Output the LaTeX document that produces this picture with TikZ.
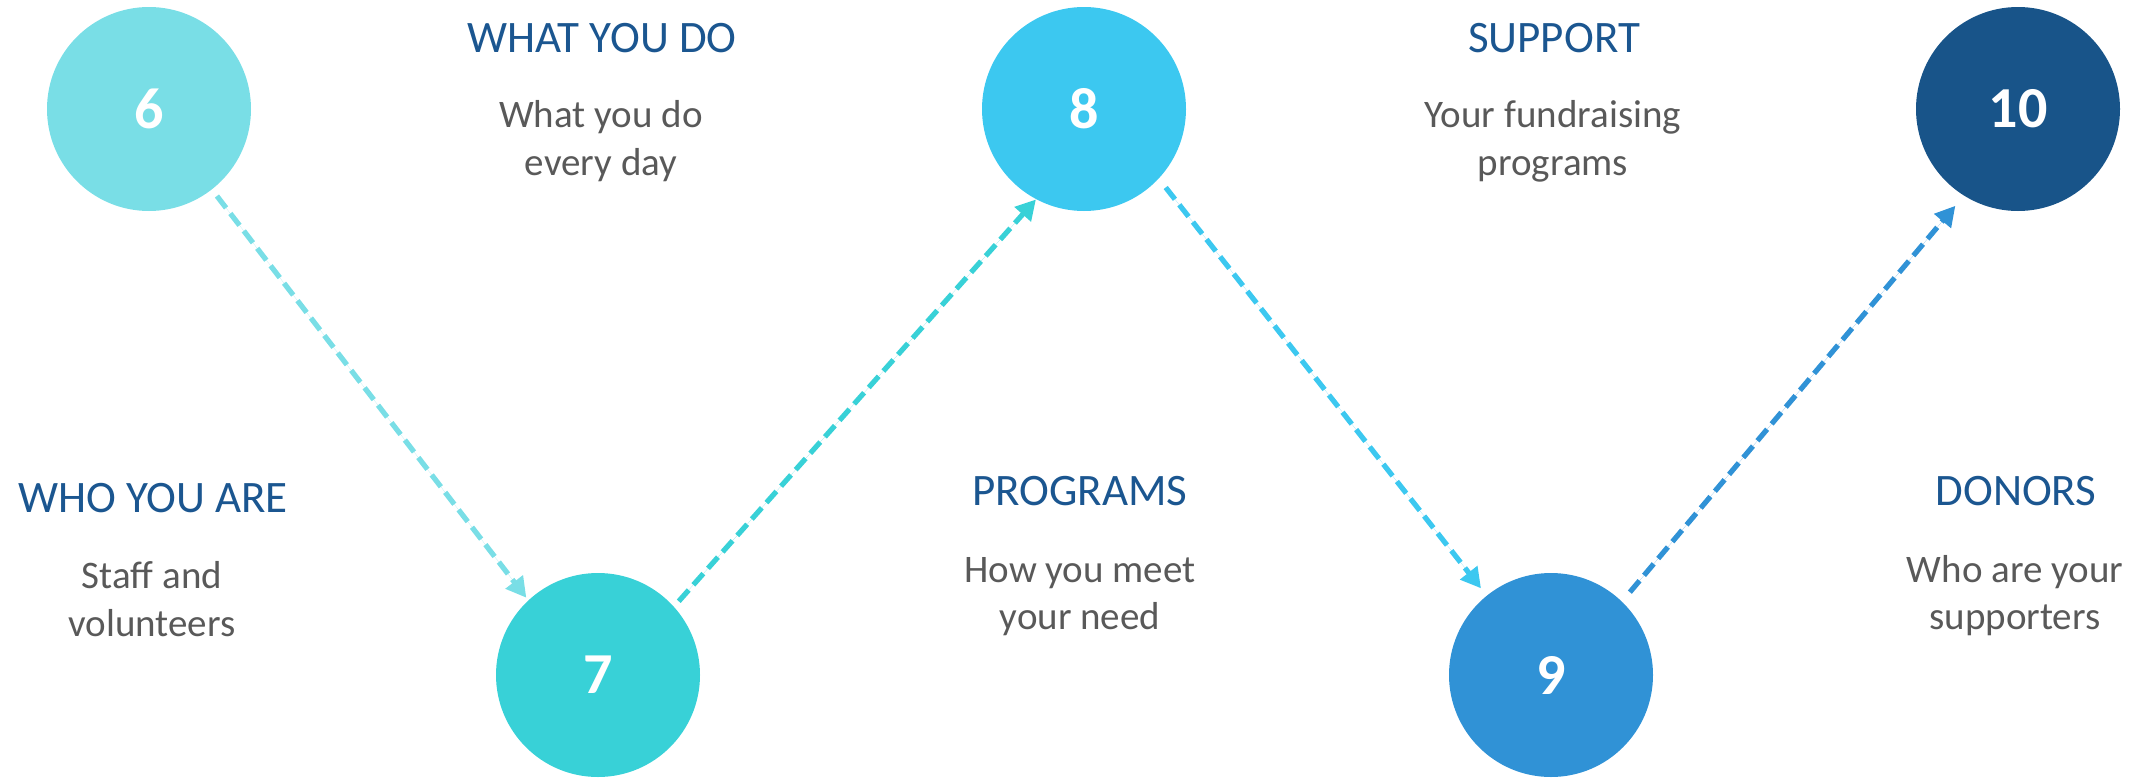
\documentclass[tikz,border=0pt]{standalone}
\usepackage{fontspec}
\setmainfont{Carlito}
\usetikzlibrary{arrows.meta}
\definecolor{cA}{HTML}{79DEE6}
\definecolor{cB}{HTML}{38D1D7}
\definecolor{cC}{HTML}{3CC8F0}
\definecolor{cD}{HTML}{3092D6}
\definecolor{cE}{HTML}{185489}
\definecolor{ttl}{HTML}{1B5690}
\definecolor{bodygray}{HTML}{595959}
\tikzset{
  num/.style={circle, inner sep=0pt, minimum size=102pt, text=white, font=\fontsize{29}{29}\selectfont\bfseries},
  ttlstyle/.style={anchor=base, inner sep=0pt, text=ttl, font=\fontsize{22.5}{22.5}\selectfont},
  bodystyle/.style={anchor=base, inner sep=0pt, text=bodygray, font=\fontsize{19.5}{19.5}\selectfont},
  flow/.style={line width=2.6pt, dash pattern=on 7.5pt off 3.5pt, -{Triangle[length=10pt,width=10.5pt]}}
}
\begin{document}
\begin{tikzpicture}[x=0.5pt,y=-0.5pt]
\useasboundingbox (0,0) rectangle (2148,777);
% circles
\node[num, fill=cA] (c6) at (149,109) {6};
\node[num, fill=cB] (c7) at (598,675) {7};
\node[num, fill=cC] (c8) at (1084,109) {8};
\node[num, fill=cD] (c9) at (1551,675) {9};
\node[num, fill=cE] (c10) at (2018,109) {10};
% texts
\node[ttlstyle] (t1) at (602,52) {WHAT YOU DO};
\node[bodystyle] (t1a) at (601,127) {What you do};
\node[bodystyle] (t1b) at (601,175) {every day};
\node[ttlstyle] (t2) at (153,512) {WHO YOU ARE};
\node[bodystyle] (t2a) at (152,588) {Staff and};
\node[bodystyle] (t2b) at (152,636) {volunteers};
\node[ttlstyle] (t3) at (1554,52) {SUPPORT};
\node[bodystyle] (t3a) at (1553,127) {Your fundraising};
\node[bodystyle] (t3b) at (1553,175) {programs};
\node[ttlstyle] (t4) at (1080,505) {PROGRAMS};
\node[bodystyle] (t4a) at (1080,582) {How you meet};
\node[bodystyle] (t4b) at (1080,629) {your need};
\node[ttlstyle] (t5) at (2016,505) {DONORS};
\node[bodystyle] (t5a) at (2015,582) {Who are your};
\node[bodystyle] (t5b) at (2015,629) {supporters};
% connectors
\draw[flow, draw=cA, fill=cA, shorten <=4pt, shorten >=1.5pt] (c6.-52) -- (c7.133);
\draw[flow, draw=cB, fill=cB, shorten <=3.5pt] (c7.42) -- (c8.-118.6);
\draw[flow, draw=cC, fill=cC, shorten <=5.5pt, shorten >=4.5pt] (c8.-43.6) -- (c9.129);
\draw[flow, draw=cD, fill=cD, shorten <=6pt, shorten >=6.5pt] (c9.46) -- (c10.-122);
\end{tikzpicture}
\end{document}
